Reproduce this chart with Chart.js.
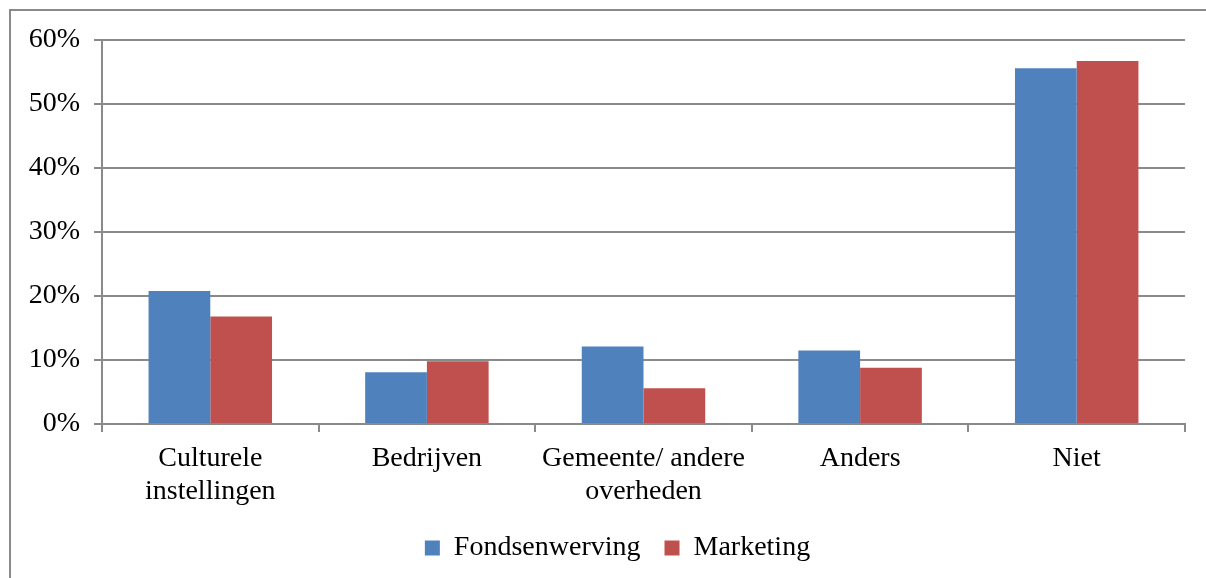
<!DOCTYPE html>
<html>
<head>
<meta charset="utf-8">
<script src="https://cdn.jsdelivr.net/npm/chart.js@4"></script>
<style>
  html, body { margin: 0; padding: 0; background: #fff; }
  #wrap { position: relative; width: 1206px; height: 578px; overflow: hidden; }
  #frame { position: absolute; left: 9px; top: 9px; width: 1300px; height: 700px;
           border-top: 2px solid #8a8a8a; border-left: 2px solid #8a8a8a; box-sizing: border-box; }
  #c { position: absolute; left: 0; top: 0; }
</style>
</head>
<body>
<div id="wrap">
  <div id="frame"></div>
  <canvas id="c" width="1206" height="578"></canvas>
</div>
<script>
const categories = [['Culturele', 'instellingen'], 'Bedrijven', ['Gemeente/ andere', 'overheden'], 'Anders', 'Niet'];
const fondsenwerving = [20.8, 8.1, 12.1, 11.5, 55.6];
const marketing = [16.8, 9.8, 5.6, 8.8, 56.7];
const yTicks = [0, 10, 20, 30, 40, 50, 60];

const FONT = "'Liberation Serif', 'Times New Roman', serif";
const GRID = '#8a8a8a';

const shiftLegend = {
  id: 'shiftLegend',
  afterLayout(chart) {
    if (chart.legend) { chart.legend.left += 25; chart.legend.right += 25; }
  }
};

new Chart(document.getElementById('c'), {
  type: 'bar',
  data: {
    labels: categories,
    datasets: [
      { label: 'Fondsenwerving', data: fondsenwerving, backgroundColor: '#4f81bd', borderWidth: 0 },
      { label: 'Marketing', data: marketing, backgroundColor: '#c0504d', borderWidth: 0 }
    ]
  },
  plugins: [shiftLegend],
  options: {
    responsive: false,
    animation: false,
    devicePixelRatio: 1,
    layout: { padding: { left: 0, top: 40, right: 21, bottom: 6 } },
    datasets: { bar: { categoryPercentage: 0.57, barPercentage: 1.0 } },
    plugins: {
      legend: {
        position: 'bottom',
        labels: {
          font: { family: FONT, size: 28 },
          color: '#000',
          boxWidth: 15,
          boxHeight: 15,
          padding: 24
        }
      },
      tooltip: { enabled: false }
    },
    scales: {
      x: {
        grid: { display: true, offset: true, drawOnChartArea: false, drawTicks: true, tickLength: 8, color: GRID, lineWidth: 2 },
        border: { display: true, color: GRID, width: 2 },
        ticks: { font: { family: FONT, size: 28, lineHeight: 1.18 }, color: '#000', padding: 10, maxRotation: 0, autoSkip: false },
        afterFit: (s) => { s.height = 86; }
      },
      y: {
        min: 0, max: 60,
        afterBuildTicks: (s) => { s.ticks = yTicks.map(v => ({ value: v })); },
        grid: { color: GRID, lineWidth: 2, drawTicks: true, tickLength: 8 },
        border: { display: true, color: GRID, width: 2 },
        ticks: { font: { family: FONT, size: 28 }, color: '#000', padding: 14, callback: (v) => v + '%' },
        afterFit: (s) => { s.width = 102; }
      }
    }
  }
});
</script>
</body>
</html>
